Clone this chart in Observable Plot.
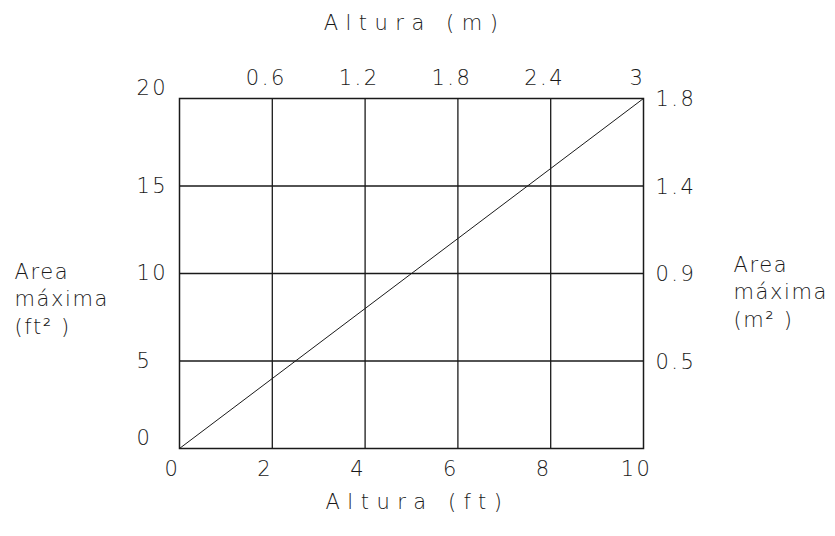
<!DOCTYPE html>
<html>
<head>
<meta charset="utf-8">
<script src="https://cdn.jsdelivr.net/npm/d3@7"></script>
<script src="https://cdn.jsdelivr.net/npm/@observablehq/plot@0.6"></script>
<style>
  html, body { margin: 0; padding: 0; background: #fff; }
  svg { font-family: "DejaVu Sans", sans-serif; font-weight: 200; }
</style>
</head>
<body>
<div id="chart"></div>
<script>
// Data
const lineData = [{ft: 0, area: 0}, {ft: 10, area: 20}];
const xTicksFt = [0, 2, 4, 6, 8, 10];
const xGrid = [2, 4, 6, 8];
const yTicksFt2 = [0, 5, 10, 15, 20];
const yGrid = [5, 10, 15];
const topTicksM = [{ft: 2, label: "0.6"}, {ft: 4, label: "1.2"}, {ft: 6, label: "1.8"}, {ft: 8, label: "2.4"}, {ft: 10, label: "3"}];
const rightTicksM2 = [{area: 20, label: "1.8"}, {area: 15, label: "1.4"}, {area: 10, label: "0.9"}, {area: 5, label: "0.5"}];
const topTitle = ["Altura (m)"];
const bottomTitle = ["Altura (ft)"];
const leftTitle = ["Area\nmáxima\n(ft² )"];
const rightTitle = ["Area\nmáxima\n(m² )"];

const ink = "#1a1a1a";
const fs = 21;
const t = {fontSize: fs, fill: ink, fontWeight: 200, lineAnchor: "middle"};

const chart = Plot.plot({
  width: 835,
  height: 536,
  marginLeft: 179,
  marginRight: 192,
  marginTop: 98,
  marginBottom: 88,
  x: {domain: [0, 10], axis: null},
  y: {domain: [0, 20], axis: null},
  style: {fontFamily: "DejaVu Sans, sans-serif", fontSize: fs + "px", color: ink, background: "#fff"},
  marks: [
    Plot.ruleX(xGrid, {stroke: ink, strokeWidth: 1.3}),
    Plot.ruleY(yGrid, {stroke: ink, strokeWidth: 1.3}),
    Plot.frame({stroke: ink, strokeWidth: 1.5}),
    Plot.line(lineData, {x: "ft", y: "area", stroke: ink, strokeWidth: 1}),
    // bottom ticks
    Plot.text(xTicksFt, {...t, x: d => d, frameAnchor: "bottom", dy: 21, dx: -7}),
    // left ticks
    Plot.text(yTicksFt2.filter(d => d > 0 && d < 20), {...t, y: d => d, frameAnchor: "left", dx: -43, textAnchor: "start"}),
    Plot.text(yTicksFt2.filter(d => d === 0 || d === 20), {...t, y: d => d, frameAnchor: "left", dx: -43, dy: -10, textAnchor: "start"}),
    // top ticks
    Plot.text(topTicksM, {...t, x: "ft", text: "label", frameAnchor: "top", dy: -20, dx: -6}),
    // right ticks
    Plot.text(rightTicksM2, {...t, y: "area", text: "label", frameAnchor: "right", dx: 12, dy: 1, textAnchor: "start"}),
    // titles
    Plot.text(topTitle, {...t, frameAnchor: "top", dy: -75, dx: 3}),
    Plot.text(bottomTitle, {...t, frameAnchor: "bottom", dy: 54, dx: 6}),
    Plot.text(leftTitle, {...t, frameAnchor: "left", dx: -165, dy: 24, textAnchor: "start", lineHeight: 1.3}),
    Plot.text(rightTitle, {...t, frameAnchor: "right", dx: 90, dy: 17, textAnchor: "start", lineHeight: 1.3})
  ]
});
// CAD-like wide letter spacing
d3.select(chart).selectAll("text").each(function() {
  const s = this.textContent;
  let ls = "2.5px";
  if (/Altura/.test(s)) ls = "7.5px";
  else if (/[A-Za-z]/.test(s)) ls = "1.6px";
  d3.select(this).style("letter-spacing", ls);
});
document.getElementById("chart").appendChild(chart);
</script>
</body>
</html>
